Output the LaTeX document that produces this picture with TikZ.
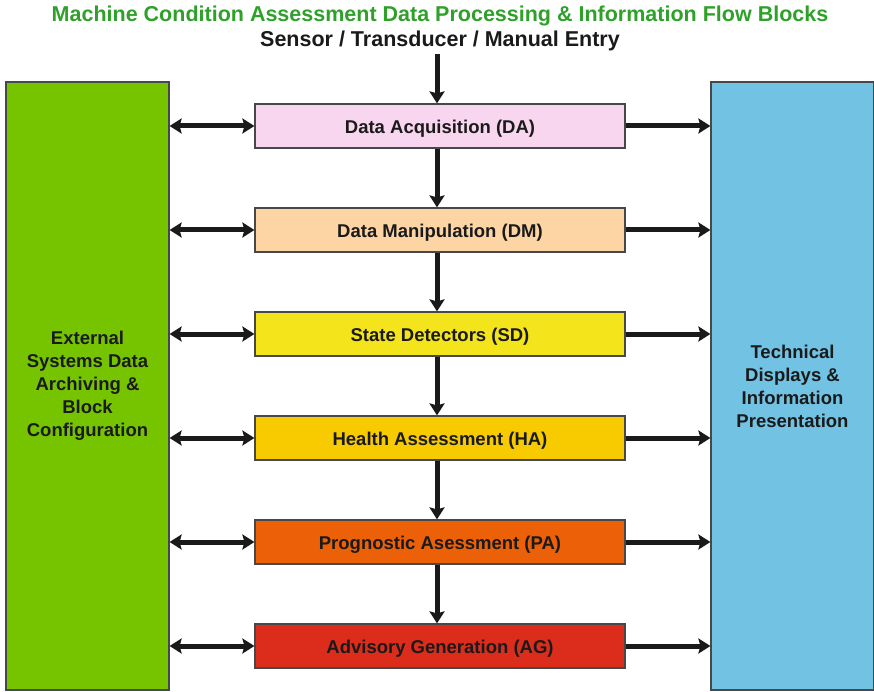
\documentclass[tikz,border=0pt]{standalone}
\usepackage{fontspec}
\setmainfont{Liberation Sans}
\usetikzlibrary{arrows.meta}
\definecolor{titlegreen}{HTML}{2FA02A}
\definecolor{leftgreen}{HTML}{76C400}
\definecolor{rightblue}{HTML}{72C2E4}
\definecolor{cDA}{HTML}{F9D6EF}
\definecolor{cDM}{HTML}{FDD4A4}
\definecolor{cSD}{HTML}{F3E41C}
\definecolor{cHA}{HTML}{F8CA00}
\definecolor{cPA}{HTML}{EC6008}
\definecolor{cAG}{HTML}{DB2C1C}
\definecolor{ink}{HTML}{1A1A1A}
\begin{document}
\begin{tikzpicture}[x=1pt,y=-1pt,
  blockbox/.style={draw=ink!80,line width=1.2pt,minimum width=370pt,minimum height=44pt,inner sep=0pt,
    text height=15pt,text depth=0pt,
    font=\fontsize{18.5}{22}\selectfont\bfseries,text=ink},
  sidebox/.style={draw=ink!80,line width=1.2pt,minimum width=163pt,minimum height=608pt,inner sep=0pt,
    font=\fontsize{18.5}{23}\selectfont\bfseries,text=ink,align=center},
  conn/.style={line width=5pt,draw=ink,-{Stealth[length=12pt,width=15pt,inset=2pt]}},
  dconn/.style={line width=5pt,draw=ink,{Stealth[length=12pt,width=15pt,inset=2pt]}-{Stealth[length=12pt,width=15pt,inset=2pt]}}
]
\useasboundingbox (0,0) rectangle (874,692);
\node[font=\fontsize{21.5}{24}\selectfont\bfseries,text=titlegreen] (title) at (440,16) {Machine Condition Assessment Data Processing \& Information Flow Blocks};
\node[font=\fontsize{21.5}{24}\selectfont\bfseries,text=ink] (sensor) at (440,41) {Sensor / Transducer / Manual Entry};
\coordinate (src) at (437,54);

\node[sidebox,fill=leftgreen] (left) at (87.5,386) {External\\Systems Data\\Archiving \&\\Block\\Configuration};
\node[sidebox,fill=rightblue] (right) at (792.5,386) {Technical\\Displays \&\\Information\\Presentation};

\node[blockbox,fill=cDA] (DA) at (440,126) {Data Acquisition (DA)};
\node[blockbox,fill=cDM] (DM) at (440,230) {Data Manipulation (DM)};
\node[blockbox,fill=cSD] (SD) at (440,334) {State Detectors (SD)};
\node[blockbox,fill=cHA] (HA) at (440,438) {Health Assessment (HA)};
\node[blockbox,fill=cPA] (PA) at (440,542) {Prognostic Asessment (PA)};
\node[blockbox,fill=cAG] (AG) at (440,646) {Advisory Generation (AG)};

\draw[conn] (src) -- (src |- DA.north);
\foreach \a/\b in {DA/DM,DM/SD,SD/HA,HA/PA,PA/AG}{
  \draw[conn] (\a.south -| src) -- (\b.north -| src);
}
\foreach \n in {DA,DM,SD,HA,PA,AG}{
  \draw[dconn] (left.east |- \n.west) -- (\n.west);
  \draw[conn] (\n.east) -- (right.west |- \n.east);
}
\end{tikzpicture}
\end{document}
